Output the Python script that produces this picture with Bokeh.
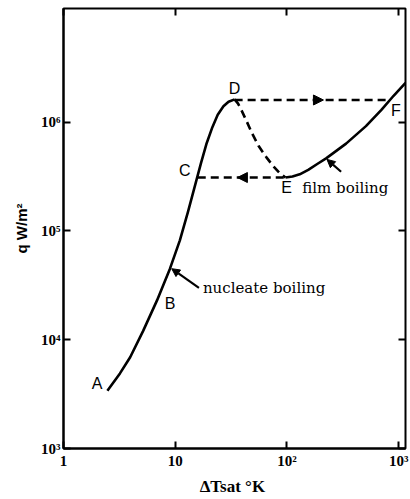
from bokeh.plotting import figure
from bokeh.models import LogAxis, FixedTicker, Arrow, NormalHead, Label
from bokeh.embed import file_html
from bokeh.resources import INLINE

# ---- data ----
x_ticks = [1, 10, 100, 1000]
x_tick_labels = ["1", "10", "10²", "10³"]
y_ticks = [1000, 10000, 100000, 1000000]
y_tick_labels = ["10³", "10⁴", "10⁵", "10⁶"]

# nucleate boiling branch A -> B -> C -> D
nucleate_dt = [2.47, 3.2, 3.95, 5.15, 6.87, 8.97, 11.0, 13.0, 15.0, 17.0, 19.0, 21.5, 24.0, 27.0, 30.0, 34.0]
nucleate_q = [3.4e3, 4.9e3, 6.9e3, 1.2e4, 2.3e4, 4.5e4, 8.2e4, 1.5e5, 2.6e5, 4.2e5, 6.3e5, 9.0e5, 1.17e6, 1.4e6, 1.54e6, 1.62e6]

# transition branch D -> E (dashed)
transition_dt = [34.0, 36.5, 39.0, 43.0, 49.0, 56.0, 65.5, 76.0, 86.0, 97.0]
transition_q = [1.62e6, 1.48e6, 1.3e6, 1.05e6, 7.8e5, 6.0e5, 4.75e5, 3.9e5, 3.4e5, 3.1e5]

# film boiling branch E -> F
film_dt = [97.0, 112.0, 130.0, 155.0, 188.0, 224.0, 338.0, 509.0, 700.0, 900.0, 1150.0]
film_q = [3.1e5, 3.17e5, 3.32e5, 3.65e5, 4.15e5, 4.65e5, 6.35e5, 9.2e5, 1.3e6, 1.75e6, 2.3e6]

# jump lines D -> F (heating) and E -> C (cooling)
jump_df_dt = [34.0, 830.0]
jump_df_q = [1.6e6, 1.6e6]
jump_ec_dt = [15.9, 97.0]
jump_ec_q = [3.1e5, 3.1e5]

point_names = ["A", "B", "C", "D", "E", "F"]
point_dt = [2.0, 8.97, 12.2, 34.0, 99.0, 943.0]
point_q = [4.0e3, 2.16e4, 3.6e5, 2.05e6, 2.5e5, 1.29e6]

p = figure(width=410, height=499, x_axis_type="log", y_axis_type="log",
           x_range=(1, 1150), y_range=(1e3, 1.11e7),
           output_backend="svg", toolbar_location=None,
           min_border_left=63, min_border_right=5, min_border_top=8, min_border_bottom=51)
p.grid.visible = False
p.background_fill_color = "white"
p.border_fill_color = "white"
p.outline_line_color = "black"
p.outline_line_width = 2
p.outline_line_alpha = 1

tick_font = "Liberation Serif"
for ax, ticks, labels in ((p.xaxis[0], x_ticks, x_tick_labels), (p.yaxis[0], y_ticks, y_tick_labels)):
    ax.ticker = FixedTicker(ticks=ticks)
    ax.major_label_overrides = {t: l for t, l in zip(ticks, labels)}
    ax.minor_tick_line_color = None
    ax.major_tick_in = 7
    ax.major_tick_out = 0
    ax.major_tick_line_width = 2
    ax.axis_line_width = 2
    ax.major_label_text_font = tick_font
    ax.major_label_text_font_size = "15px"
    ax.major_label_text_font_style = "bold"
    ax.major_label_text_color = "black"
    ax.axis_label_text_font_style = "bold"
    ax.axis_label_text_color = "black"

p.xaxis.axis_label = "ΔTsat  °K"
p.xaxis.axis_label_text_font = "Liberation Serif"
p.xaxis.axis_label_text_font_size = "17px"
p.xaxis.major_label_standoff = 4
p.xaxis.axis_label_standoff = 5
p.yaxis.axis_label = "q W/m²"
p.yaxis.axis_label_text_font = "Liberation Sans"
p.yaxis.axis_label_text_font_size = "15px"
p.yaxis.major_label_standoff = 3
p.yaxis.axis_label_standoff = 8

# right and top axes: ticks only
for loc, ticks in (("right", y_ticks), ("above", x_ticks)):
    ax = LogAxis(ticker=FixedTicker(ticks=ticks))
    ax.major_label_overrides = {t: "" for t in ticks}
    ax.major_label_standoff = 0
    ax.major_label_text_font_size = "1px"
    ax.minor_tick_line_color = None
    ax.major_tick_in = 7
    ax.major_tick_out = 0
    ax.major_tick_line_width = 2
    ax.axis_line_color = None
    p.add_layout(ax, loc)

lw = 2.6
p.line(nucleate_dt, nucleate_q, line_color="black", line_width=lw, line_join="round")
p.line(film_dt, film_q, line_color="black", line_width=lw, line_join="round")
p.line(transition_dt, transition_q, line_color="black", line_width=lw, line_dash="8 5")
p.line(jump_df_dt, jump_df_q, line_color="black", line_width=lw, line_dash="8 5")
p.line(jump_ec_dt, jump_ec_q, line_color="black", line_width=lw, line_dash="8 5")

# arrowheads on jump lines
p.add_layout(Arrow(end=NormalHead(size=10, fill_color="black", line_color="black"),
                   x_start=170, y_start=1.6e6, x_end=212, y_end=1.6e6, line_alpha=0))
p.add_layout(Arrow(end=NormalHead(size=10, fill_color="black", line_color="black"),
                   x_start=45, y_start=3.1e5, x_end=36, y_end=3.1e5, line_alpha=0))

# pointer arrows for region labels
p.add_layout(Arrow(end=NormalHead(size=8, fill_color="black", line_color="black"),
                   x_start=16.3, y_start=3.0e4, x_end=9.3, y_end=4.5e4, line_width=2.2))
p.add_layout(Arrow(end=NormalHead(size=8, fill_color="black", line_color="black"),
                   x_start=305, y_start=3.5e5, x_end=228, y_end=4.55e5, line_width=2.2))

p.add_layout(Label(x=17.7, y=3.0e4, text="nucleate boiling", text_font="DejaVu Serif",
                   text_font_size="15px", text_baseline="middle", text_align="left", text_color="black"))
p.add_layout(Label(x=137, y=2.5e5, text="film boiling", text_font="DejaVu Serif",
                   text_font_size="15px", text_baseline="middle", text_align="left", text_color="black"))

for n, xx, yy in zip(point_names, point_dt, point_q):
    p.add_layout(Label(x=xx, y=yy, text=n, text_font="Liberation Sans", text_font_size="16px",
                       text_baseline="middle", text_align="center", text_color="black"))

open("out.html", "w").write(file_html(p, INLINE))
